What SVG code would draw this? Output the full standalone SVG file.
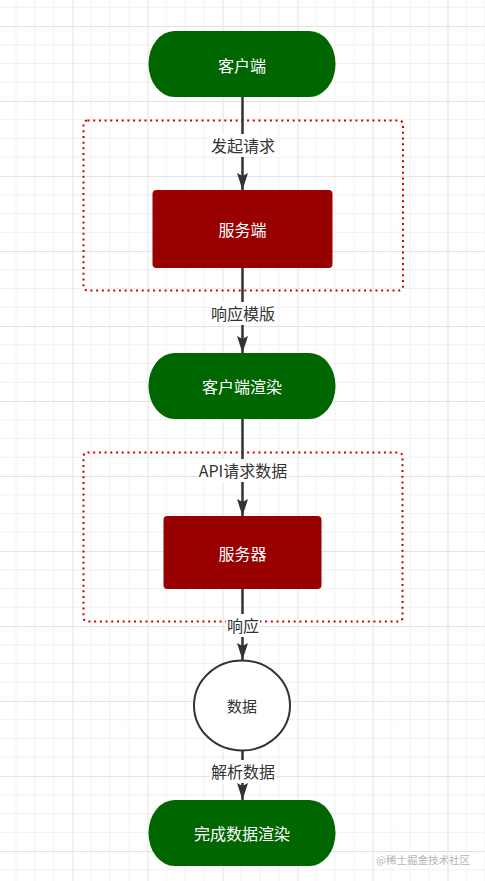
<svg xmlns="http://www.w3.org/2000/svg" width="485" height="881" viewBox="0 0 485 881">
  <defs>
    <pattern id="grid" patternUnits="userSpaceOnUse" x="-2.5" y="-49" width="75" height="75">
      <path d="M18.75 0V75M37.5 0V75M56.25 0V75M0 18.75H75M0 37.5H75M0 56.25H75" stroke="#f0f0f0" stroke-width="1" fill="none"/>
      <path d="M0.5 0V75M0 0.5H75" stroke="#e3e3e3" stroke-width="1" fill="none"/>
    </pattern>
    <marker id="arrow" markerUnits="userSpaceOnUse" viewBox="0 0 17 11" refX="17" refY="5.5" markerWidth="17" markerHeight="11" orient="auto">
      <path d="M0 0L17 5.5L0 11L3 5.5Z" fill="#333333"/>
    </marker>
    <style>
      .term { fill: #006600; }
      .srv { fill: #990000; }
      .grp { fill: none; stroke: #cc0000; stroke-width: 2; stroke-dasharray: 2 3.7; }
      .nt { font-family: "Noto Sans CJK SC", "Noto Sans", sans-serif; font-size: 16px; fill: #ffffff; text-anchor: middle; dominant-baseline: central; }
      .lt { font-family: "Noto Sans CJK SC", "Noto Sans", sans-serif; font-size: 16px; fill: #333333; text-anchor: middle; dominant-baseline: central; }
      .lbg { fill: #ffffff; }
      .edge { stroke: #333333; stroke-width: 2.5; fill: none; marker-end: url(#arrow); }
    </style>
  </defs>
  <rect width="485" height="881" fill="#ffffff"/>
  <rect width="485" height="881" fill="url(#grid)"/>

  <g id="group1"><rect class="grp" x="83.5" y="120.5" width="319.5" height="170" rx="4"/></g>
  <g id="group2"><rect class="grp" x="83.5" y="452.5" width="319" height="169" rx="4"/></g>

  <g id="connectors">
    <line class="edge" x1="242.5" y1="97" x2="242.5" y2="190"/>
    <line class="edge" x1="242.5" y1="268" x2="242.5" y2="353"/>
    <line class="edge" x1="242.5" y1="419" x2="242.5" y2="516"/>
    <line class="edge" x1="242.5" y1="589" x2="242.5" y2="660"/>
    <line class="edge" x1="242.5" y1="751" x2="242.5" y2="800"/>
    <rect class="lbg" x="210" y="134" width="66" height="23"/>
    <text class="lt" x="243" y="145">发起请求</text>
    <rect class="lbg" x="210" y="302" width="66" height="23"/>
    <text class="lt" x="243" y="313">响应模版</text>
    <rect class="lbg" x="197" y="459" width="92" height="23"/>
    <text class="lt" x="243" y="470">API请求数据</text>
    <rect class="lbg" x="226" y="614" width="34" height="23"/>
    <text class="lt" x="243" y="625">响应</text>
    <rect class="lbg" x="210" y="760" width="66" height="23"/>
    <text class="lt" x="243" y="771">解析数据</text>
  </g>

  <g id="client">
    <rect class="term" x="148.5" y="31" width="187" height="66" rx="26" ry="33"/>
    <text class="nt" x="242" y="65">客户端</text>
  </g>
  <g id="server1">
    <rect class="srv" x="152.5" y="190" width="180" height="78" rx="4"/>
    <text class="nt" x="242.5" y="229">服务端</text>
  </g>
  <g id="clientRender">
    <rect class="term" x="148.5" y="353" width="187" height="66" rx="26" ry="33"/>
    <text class="nt" x="242" y="386">客户端渲染</text>
  </g>
  <g id="server2">
    <rect class="srv" x="163.5" y="516" width="158" height="73" rx="4"/>
    <text class="nt" x="242.5" y="553">服务器</text>
  </g>
  <g id="data">
    <ellipse cx="242" cy="705.5" rx="48" ry="45" fill="#ffffff" stroke="#333333" stroke-width="2"/>
    <text class="lt" x="242" y="705" style="font-size:15px">数据</text>
  </g>
  <g id="done">
    <rect class="term" x="148.5" y="800" width="187" height="66" rx="26" ry="33"/>
    <text class="nt" x="242" y="833">完成数据渲染</text>
  </g>

  <text x="423" y="859" font-family="'Noto Sans CJK SC', 'Noto Sans', sans-serif" font-size="10.5" fill="#b4b4b4" text-anchor="middle" dominant-baseline="central">@稀土掘金技术社区</text>
</svg>
